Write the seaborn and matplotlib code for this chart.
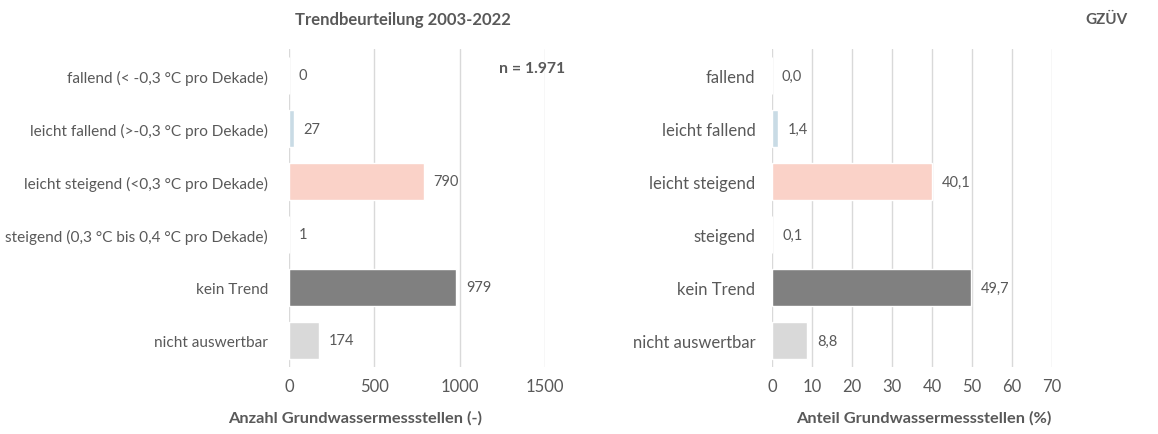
import matplotlib
matplotlib.use("Agg")
import matplotlib.pyplot as plt
import seaborn as sns
import pandas as pd

# Trend classes (long and short labels), counts and percentages
labels_long = [
    "fallend (< -0,3 °C pro Dekade)",
    "leicht fallend (>-0,3 °C pro Dekade)",
    "leicht steigend (<0,3 °C pro Dekade)",
    "steigend (0,3 °C bis 0,4 °C pro Dekade)",
    "kein Trend",
    "nicht auswertbar",
]
labels_short = [
    "fallend",
    "leicht fallend",
    "leicht steigend",
    "steigend",
    "kein Trend",
    "nicht auswertbar",
]
counts = [0, 27, 790, 1, 979, 174]
shares = [0.0, 1.4, 40.1, 0.1, 49.7, 8.8]
bar_colors = ["#f4b183", "#c9dbe5", "#fad2c8", "#e07a5f", "#808080", "#d9d9d9"]

sns.set_theme(style="white")
plt.rcParams["font.family"] = ["Lato", "DejaVu Sans"]

TEXT = "#595959"
GRID = "#d9d9d9"

fig = plt.figure(figsize=(11.58, 4.35), dpi=100)
W, H = 1158, 435


def make_axes(x0, x1, y0, y1):
    return fig.add_axes([x0 / W, 1 - y1 / H, (x1 - x0) / W, (y1 - y0) / H])


ax1 = make_axes(289, 545, 50, 368)
ax2 = make_axes(772, 1052, 50, 368)

df1 = pd.DataFrame({"cat": labels_long, "val": counts})
df2 = pd.DataFrame({"cat": labels_short, "val": shares})

sns.barplot(data=df1, y="cat", x="val", hue="cat", palette=bar_colors,
            legend=False, width=0.68, saturation=1, ax=ax1)
sns.barplot(data=df2, y="cat", x="val", hue="cat", palette=bar_colors,
            legend=False, width=0.68, saturation=1, ax=ax2)

ax1.set_xlim(0, 1500)
ax1.set_xticks([0, 500, 1000, 1500])
ax2.set_xlim(0, 70)
ax2.set_xticks(range(0, 71, 10))

for ax, vals, fmt, ysize, ypad in [(ax1, counts, "{:d}", 11.1, 15),
                                   (ax2, shares, "{:.1f}", 12, 12)]:
    ax.set_ylim(5.5, -0.5)
    ax.grid(axis="x", color=GRID, linewidth=1)
    ax.set_axisbelow(True)
    for s in ax.spines.values():
        s.set_visible(False)
    ax.tick_params(axis="y", length=0, pad=ypad, labelsize=ysize, labelcolor=TEXT)
    ax.tick_params(axis="x", length=0, pad=8, labelsize=12, labelcolor=TEXT)
    ax.set_xlabel("")
    ax.set_ylabel("")
    # one container per category (hue), each holding a single bar
    for c, v in zip(ax.containers, vals):
        ax.bar_label(c, labels=[fmt.format(v).replace(".", ",")],
                     padding=7, fontsize=10.5, color=TEXT)

fig.text(403 / W, 1 - 20 / H, "Trendbeurteilung 2003-2022", ha="center", va="center",
         fontsize=12, fontweight="bold", color=TEXT)
fig.text(1107 / W, 1 - 20 / H, "GZÜV", ha="center", va="center",
         fontsize=11, fontweight="bold", color=TEXT)
fig.text(532 / W, 1 - 69 / H, "n = 1.971", ha="center", va="center",
         fontsize=11.3, fontweight="bold", color=TEXT)
fig.text(355 / W, 1 - 418 / H, "Anzahl Grundwassermessstellen (-)", ha="center", va="center",
         fontsize=11.8, fontweight="bold", color=TEXT)
fig.text(924 / W, 1 - 418 / H, "Anteil Grundwassermessstellen (%)", ha="center", va="center",
         fontsize=11.8, fontweight="bold", color=TEXT)

fig.savefig("out.png", dpi=100, facecolor="white")
